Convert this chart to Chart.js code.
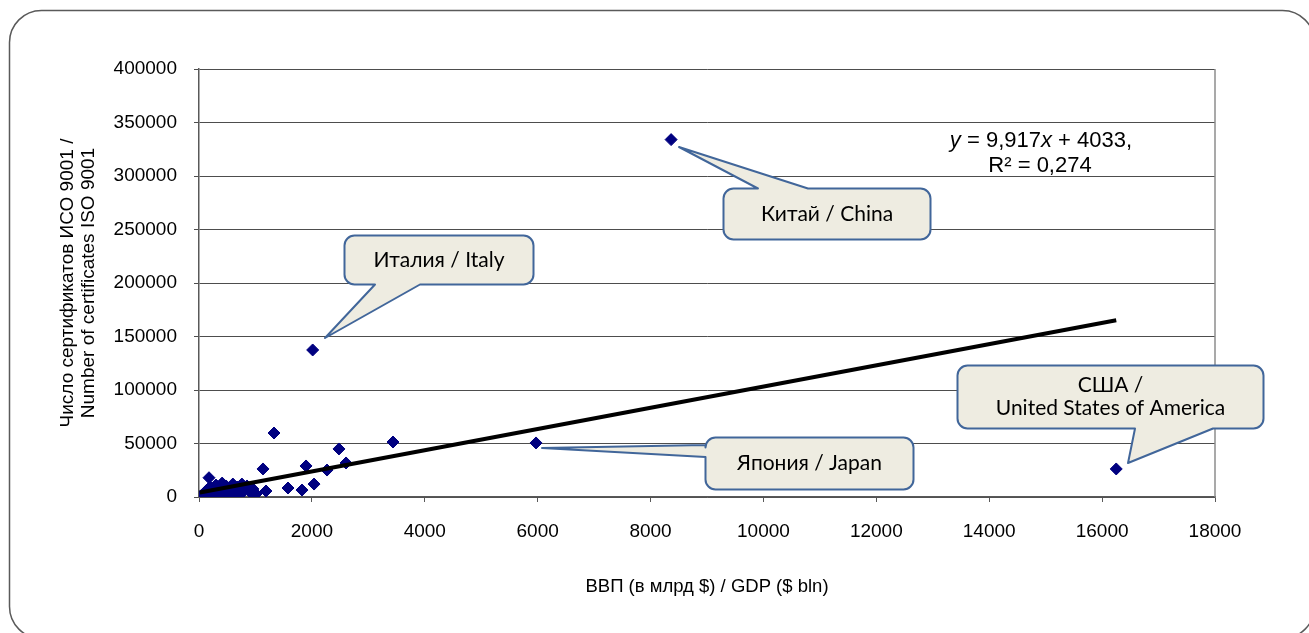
<!DOCTYPE html>
<html>
<head>
<meta charset="utf-8">
<script src="https://cdn.jsdelivr.net/npm/chart.js@4.4.1/dist/chart.umd.min.js"></script>
<style>
  html, body { margin: 0; padding: 0; background: #fff; }
  #wrap { width: 1309px; height: 633px; }
</style>
</head>
<body>
<div id="wrap"><canvas id="grafico" width="1309" height="633"></canvas></div>
<script>
// ВВП (млрд $) и число сертификатов ISO 9001 по странам
const gdp = [
  15, 35, 50, 70, 90, 105, 125, 140, 160, 177, 195, 210, 230, 250, 265, 300, 320, 355, 370, 410,
  440, 480, 515, 550, 560, 600, 640, 675, 730, 760, 800, 850, 905, 955, 1010,
  1134, 1187, 1329, 1577, 1825, 1896, 2038, 2014, 2268, 2480, 2605, 3437, 5971, 8364, 16250
];
const certs = [
  300, 900, 1800, 200, 2800, 1000, 4700, 6500, 1900, 18000, 9300, 3700, 150, 7500, 900, 11200, 4700, 8400, 1900, 13000,
  5600, 10300, 2800, 7500, 300, 12100, 4700, 9300, 1900, 12100, 6500, 10300, 4700, 7500, 2800,
  26200, 5600, 59800, 8400, 6500, 29000, 12100, 137400, 25200, 44900, 31800, 51400, 50500, 334000, 26200
];

const xTicks = [0, 2000, 4000, 6000, 8000, 10000, 12000, 14000, 16000, 18000];
const yTicks = [0, 50000, 100000, 150000, 200000, 250000, 300000, 350000, 400000];

// линейный тренд (из подписи на графике)
const trendSlope = 9.917;
const trendIntercept = 4033;
const trendR2 = 0.274;

const puntos = gdp.map((g, i) => ({ x: g, y: certs[i] }));
const xMin = Math.min(...gdp);
const xMax = Math.max(...gdp);
const tendencia = [
  { x: xMin, y: trendSlope * xMin + trendIntercept },
  { x: xMax, y: trendSlope * xMax + trendIntercept }
];

// выноски: прямоугольник, основание хвоста и остриё в координатах данных
const callouts = [
  { lines: ["Италия / Italy"], box: [2569, 5917, 244860, 199065], side: "bottom", base: [3118, 3915], tip: [2232, 148600] },
  { lines: ["Китай / China"], box: [9283, 12950, 288785, 241121], side: "top", base: [9903, 10789], tip: [8504, 327100] },
  { lines: ["США /", "United States of America"], box: [13429, 18850, 123364, 64486], side: "bottom", base: [16583, 17965], tip: [16459, 31776] },
  { lines: ["Япония / Japan"], box: [8965, 12650, 56075, 7477], side: "left", base: [48598, 37383], tip: [6077, 45794] }
];

const FONT = "'Liberation Sans', Arial, sans-serif";
const CALLOUT_FONT = "Lato, 'Open Sans', sans-serif";

function calloutPath(ctx, x0, y0, x1, y1, r, side, b0, b1, tx, ty) {
  ctx.beginPath();
  ctx.moveTo(x0 + r, y0);
  if (side === "top") {
    ctx.lineTo(Math.min(b0, b1), y0);
    ctx.lineTo(tx, ty);
    ctx.lineTo(Math.max(b0, b1), y0);
  }
  ctx.lineTo(x1 - r, y0);
  ctx.arcTo(x1, y0, x1, y0 + r, r);
  ctx.lineTo(x1, y1 - r);
  ctx.arcTo(x1, y1, x1 - r, y1, r);
  if (side === "bottom") {
    ctx.lineTo(Math.max(b0, b1), y1);
    ctx.lineTo(tx, ty);
    ctx.lineTo(Math.min(b0, b1), y1);
  }
  ctx.lineTo(x0 + r, y1);
  ctx.arcTo(x0, y1, x0, y1 - r, r);
  if (side === "left") {
    ctx.lineTo(x0, Math.max(b0, b1));
    ctx.lineTo(tx, ty);
    ctx.lineTo(x0, Math.min(b0, b1));
  }
  ctx.lineTo(x0, y0 + r);
  ctx.arcTo(x0, y0, x0 + r, y0, r);
  ctx.closePath();
}

function drawRuns(ctx, runs, cx, cy, size) {
  let total = 0;
  runs.forEach(r => {
    ctx.font = (r[1] ? "italic " : "") + size + "px " + FONT;
    total += ctx.measureText(r[0]).width;
  });
  let x = cx - total / 2;
  runs.forEach(r => {
    ctx.font = (r[1] ? "italic " : "") + size + "px " + FONT;
    ctx.fillText(r[0], x, cy);
    x += ctx.measureText(r[0]).width;
  });
}

const decoracion = {
  id: "decoracion",
  beforeDraw(chart) {
    const ctx = chart.ctx;
    ctx.save();
    ctx.fillStyle = "#fff";
    ctx.fillRect(0, 0, chart.width, chart.height);
    ctx.strokeStyle = "#5a5a5a";
    ctx.lineWidth = 1.5;
    ctx.beginPath();
    ctx.roundRect(9.5, 10.5, 1305, 628, 32);
    ctx.stroke();
    ctx.restore();
  },
  afterDraw(chart) {
    const ctx = chart.ctx;
    const xs = chart.scales.x;
    const ys = chart.scales.y;
    const area = chart.chartArea;
    ctx.save();

    // правая граница области построения
    ctx.strokeStyle = "#8c8c8c";
    ctx.lineWidth = 1.5;
    ctx.beginPath();
    ctx.moveTo(area.right, area.top);
    ctx.lineTo(area.right, area.bottom);
    ctx.stroke();

    // уравнение тренда
    ctx.fillStyle = "#000";
    ctx.textBaseline = "middle";
    const slopeTxt = String(trendSlope).replace(".", ",");
    drawRuns(ctx, [["y", true], [" = " + slopeTxt, false], ["x", true], [" + " + trendIntercept + ",", false]],
      xs.getPixelForValue(14917), ys.getPixelForValue(332700), 22);
    drawRuns(ctx, [["R² = " + String(trendR2).replace(".", ","), false]],
      xs.getPixelForValue(14900), ys.getPixelForValue(309300), 22);

    // выноски
    callouts.forEach(c => {
      const x0 = Math.round(xs.getPixelForValue(c.box[0])) + 0.5;
      const x1 = Math.round(xs.getPixelForValue(c.box[1])) + 0.5;
      const y0 = Math.round(ys.getPixelForValue(c.box[2])) + 0.5;
      const y1 = Math.round(ys.getPixelForValue(c.box[3])) + 0.5;
      const horiz = c.side === "left";
      const b0 = horiz ? ys.getPixelForValue(c.base[0]) : xs.getPixelForValue(c.base[0]);
      const b1 = horiz ? ys.getPixelForValue(c.base[1]) : xs.getPixelForValue(c.base[1]);
      const tx = xs.getPixelForValue(c.tip[0]);
      const ty = ys.getPixelForValue(c.tip[1]);
      calloutPath(ctx, x0, y0, x1, y1, 10, c.side, b0, b1, tx, ty);
      ctx.fillStyle = "#eeece1";
      ctx.fill();
      ctx.strokeStyle = "#41669a";
      ctx.lineWidth = 2;
      ctx.lineJoin = "round";
      ctx.stroke();

      ctx.fillStyle = "#000";
      ctx.font = "21px " + CALLOUT_FONT;
      ctx.textAlign = "center";
      const lh = 23;
      const cy = (y0 + y1) / 2 - (c.lines.length - 1) * lh / 2;
      c.lines.forEach((t, i) => ctx.fillText(t, (x0 + x1) / 2, cy + i * lh));
      ctx.textAlign = "left";
    });
    ctx.restore();
  }
};

new Chart(document.getElementById("grafico"), {
  type: "scatter",
  data: {
    datasets: [
      {
        label: "Тренд",
        data: tendencia,
        showLine: true,
        borderColor: "#000",
        borderWidth: 4,
        pointRadius: 0,
        order: 0
      },
      {
        label: "Страны",
        data: puntos,
        pointStyle: "rectRot",
        pointRadius: 6,
        backgroundColor: "#000080",
        borderColor: "#000080",
        borderWidth: 1,
        order: 1
      }
    ]
  },
  options: {
    responsive: false,
    animation: false,
    layout: { padding: { left: 0, top: 69, right: 94, bottom: 0 } },
    plugins: {
      legend: { display: false },
      tooltip: { enabled: false }
    },
    scales: {
      x: {
        type: "linear",
        min: xTicks[0],
        max: xTicks[xTicks.length - 1],
        afterBuildTicks: (s) => { s.ticks = xTicks.map(v => ({ value: v })); },
        afterFit: (s) => { s.height = 136; },
        grid: { drawOnChartArea: false, drawTicks: true, tickLength: 5, color: "#595959" },
        border: { color: "#595959", width: 1.5 },
        ticks: { color: "#000", font: { family: FONT, size: 19 }, padding: 18, maxRotation: 0, callback: v => String(v) },
        title: {
          display: true,
          text: "ВВП (в млрд $) / GDP ($ bln)",
          color: "#000",
          font: { family: FONT, size: 18.5, lineHeight: 1.1 },
          padding: { top: 0, bottom: 35.5 }
        }
      },
      y: {
        type: "linear",
        min: yTicks[0],
        max: yTicks[yTicks.length - 1],
        afterBuildTicks: (s) => { s.ticks = yTicks.map(v => ({ value: v })); },
        afterFit: (s) => { s.width = 199; },
        grid: { color: "#4d4d4d", lineWidth: 1, tickLength: 5 },
        border: { color: "#595959", width: 1.5 },
        ticks: { color: "#000", font: { family: FONT, size: 19 }, padding: 17, callback: v => String(v) },
        title: {
          display: true,
          text: ["Число сертификатов ИСО 9001 /", "Number of certificates ISO 9001"],
          color: "#000",
          font: { family: FONT, size: 19, lineHeight: 1.1 },
          padding: { top: 57.5, bottom: 0 }
        }
      }
    }
  },
  plugins: [decoracion]
});
</script>
</body>
</html>
